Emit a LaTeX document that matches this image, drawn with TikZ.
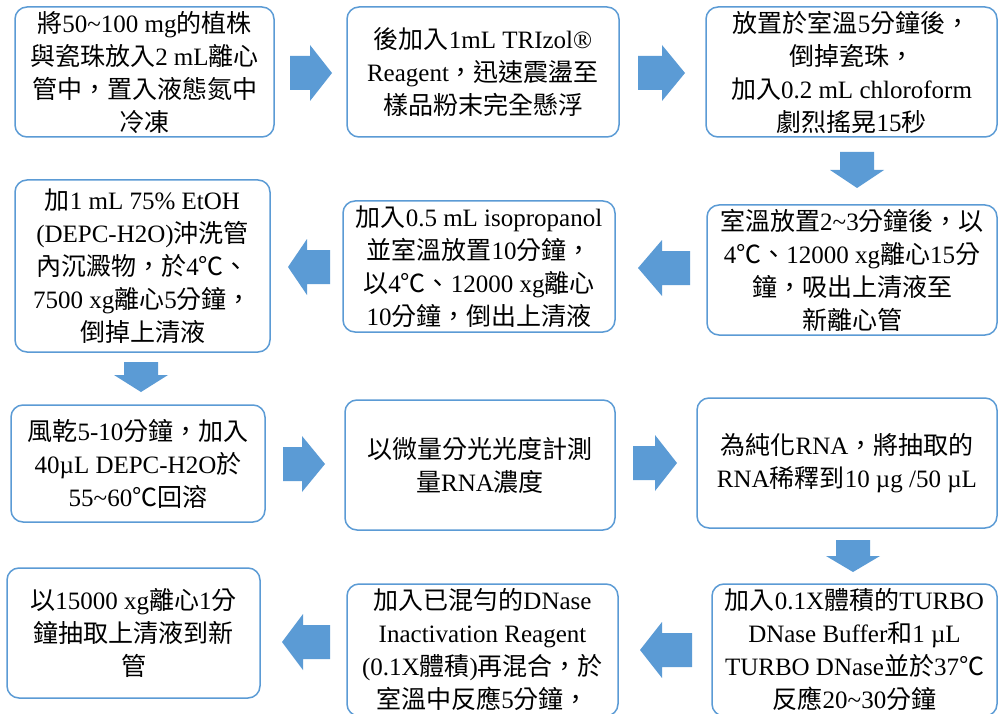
\documentclass[tikz,border=0pt]{standalone}
\usepackage{fontspec}
\setmainfont{Liberation Serif}
\newfontfamily\cjkfont{Noto Sans CJK TC}
\XeTeXinterchartokenstate=1
\newXeTeXintercharclass\CJKcls
\newcount\cjkcc
\def\setcjkrange#1#2{\cjkcc=#1\relax\loop\XeTeXcharclass\cjkcc=\CJKcls\advance\cjkcc by 1\relax\ifnum\cjkcc<#2\relax\repeat}
\setcjkrange{"4E00}{"A000}
\setcjkrange{"3000}{"3040}
\setcjkrange{"FF00}{"FFF0}
\XeTeXcharclass"2103=\CJKcls
\XeTeXinterchartoks 0 \CJKcls = {\cjkfont}
\XeTeXinterchartoks 4095 \CJKcls = {\cjkfont}
\XeTeXinterchartoks \CJKcls 0 = {\rmfamily}
\XeTeXinterchartoks \CJKcls 4095 = {\rmfamily}
\newcommand\tld{\char"7E\relax}
\definecolor{oblue}{HTML}{5B9BD5}
\newcommand\BArR[4]{\fill[barrow] (#1,#4-17) -- (#2,#4-17) -- (#2,#4-28) -- (#3,#4) -- (#2,#4+28) -- (#2,#4+17) -- (#1,#4+17) -- cycle;}
\newcommand\BArL[4]{\fill[barrow] (#3,#4-17) -- (#2,#4-17) -- (#2,#4-28) -- (#1,#4) -- (#2,#4+28) -- (#2,#4+17) -- (#3,#4+17) -- cycle;}
\newcommand\BArD[4]{\fill[barrow] (#1-17,#2) -- (#1-17,#3) -- (#1-27,#3) -- (#1,#4) -- (#1+27,#3) -- (#1+17,#3) -- (#1+17,#2) -- cycle;}
\begin{document}
\begin{tikzpicture}[x=1pt,y=-1pt,
  box/.style={draw=oblue, line width=1.5pt, rounded corners=12pt, inner sep=0pt,
    align=center, font=\fontsize{25pt}{33pt}\selectfont, text=black},
  barrow/.style={fill=oblue}]
\useasboundingbox (0,0) rectangle (998,714);
\clip (0,0) rectangle (998,714);
\fill[white] (0,0) rectangle (998,714);
% row 1
\node[box, minimum width=259pt, minimum height=130pt] (b1) at (144.5,72)
  {將50\tld100 mg的植株\\與瓷珠放入2 mL離心\\管中，置入液態氮中\\冷凍};
\node[box, minimum width=272pt, minimum height=130pt] (b2) at (483,72)
  {後加入1mL TRIzol®\\Reagent，迅速震盪至\\樣品粉末完全懸浮};
\node[box, minimum width=291pt, minimum height=130pt] (b3) at (851.5,72)
  {放置於室溫5分鐘後，\\倒掉瓷珠，\\加入0.2 mL chloroform\\劇烈搖晃15秒};
% row 2
\node[box, minimum width=255pt, minimum height=172pt] (b4) at (142.5,266)
  {加1 mL 75\% EtOH\\(DEPC-H2O)沖洗管\\內沉澱物，於4℃、\\7500 xg離心5分鐘，\\倒掉上清液};
\node[box, minimum width=272pt, minimum height=131pt] (b5) at (479,266.5)
  {加入0.5 mL isopropanol\\並室溫放置10分鐘，\\以4℃、12000 xg離心\\10分鐘，倒出上清液};
\node[box, minimum width=290pt, minimum height=130pt] (b6) at (852,270)
  {室溫放置2\tld3分鐘後，以\\4℃、12000 xg離心15分\\鐘，吸出上清液至\\新離心管};
% row 3
\node[box, minimum width=254pt, minimum height=117pt] (b7) at (138,463.5)
  {風乾5-10分鐘，加入\\40µL DEPC-H2O於\\55\tld60℃回溶};
\node[box, minimum width=270pt, minimum height=130pt] (b8) at (480,465)
  {以微量分光光度計測\\量RNA濃度};
\node[box, minimum width=300pt, minimum height=130pt] (b9) at (847,463)
  {為純化RNA，將抽取的\\RNA稀釋到10 µg /50 µL};
% row 4
\node[box, minimum width=253pt, minimum height=130pt] (b10) at (133.5,633)
  {以15000 xg離心1分\\鐘抽取上清液到新\\管};
\node[box, minimum width=271pt, minimum height=132pt] (b11) at (482.5,650)
  {加入已混勻的DNase\\Inactivation Reagent\\(0.1X體積)再混合，於\\室溫中反應5分鐘，};
\node[box, minimum width=285pt, minimum height=132pt] (b12) at (854.5,650)
  {加入0.1X體積的TURBO\\DNase Buffer和1 µL\\TURBO DNase並於37℃\\反應20\tld30分鐘};
% arrows
\BArR{290}{310}{332}{73}
\BArR{638}{662}{685}{73}
\BArD{857}{152}{170}{188}
\BArL{638}{662}{690}{268}
\BArL{288}{307}{330}{267}
\BArD{141}{362}{375}{392}
\BArR{283}{302}{325}{464}
\BArR{633}{655}{677}{463}
\BArD{853}{540}{556}{572}
\BArL{640}{662}{692}{650}
\BArL{282}{303}{330}{642}
\end{tikzpicture}
\end{document}
